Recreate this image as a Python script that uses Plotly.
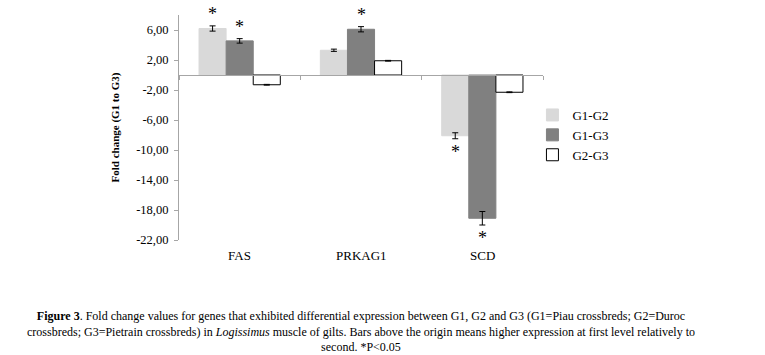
import plotly.graph_objects as go

genes = ["FAS", "PRKAG1", "SCD"]
series_names = ["G1-G2", "G1-G3", "G2-G3"]
g1g2 = [6.2, 3.3, -8.1]
g1g2_err = [0.35, 0.15, 0.4]
g1g3 = [4.55, 6.1, -19.1]
g1g3_err = [0.3, 0.35, 0.9]
g2g3 = [-1.3, 1.9, -2.3]
g2g3_err = [0.05, 0.05, 0.05]
# significance flags (1 = asterisk)
g1g2_sig = [1, 0, 1]
g1g3_sig = [1, 1, 1]
g2g3_sig = [0, 0, 0]
y_ticks = [6, 2, -2, -6, -10, -14, -18, -22]

FONT = "Liberation Serif, Times New Roman, serif"
Y_MIN, Y_MAX = -22, 8
W, H = 765, 355
ML, MR, MT, MB = 179, 222, 15, 115
PW, PH = W - ML - MR, H - MT - MB

colors = ["#d9d9d9", "#808080", "#ffffff"]
lines = ["#d9d9d9", "#808080", "#000000"]
vals = [g1g2, g1g3, g2g3]
errs = [g1g2_err, g1g3_err, g2g3_err]
sigs = [g1g2_sig, g1g3_sig, g2g3_sig]

fig = go.Figure()
for name, v, e, c, lc in zip(series_names, vals, errs, colors, lines):
    fig.add_trace(go.Bar(
        name=name, x=genes, y=v,
        marker=dict(color=c, line=dict(color=lc, width=1)),
        error_y=dict(type="data", array=e, color="#000000", thickness=1, width=3),
    ))

# asterisks and category labels
bar_w = (1 - 0.33) / 3
annotations = []
for si, (v, e, s) in enumerate(zip(vals, errs, sigs)):
    off = (si - 1) * bar_w
    for gi, g in enumerate(genes):
        if s[gi]:
            top = v[gi] >= 0
            yv = v[gi] + e[gi] if top else v[gi] - e[gi]
            annotations.append(dict(
                x=gi + off, y=yv, xref="x", yref="y", text="*", showarrow=False,
                yanchor="bottom" if top else "top", yshift=0 if top else -1,
                font=dict(family=FONT, size=18, color="#000000")))
for gi, g in enumerate(genes):
    annotations.append(dict(
        x=gi, y=Y_MIN, xref="x", yref="y", text=g, showarrow=False,
        yanchor="top", yshift=-6, font=dict(family=FONT, size=13, color="#000000")))

caption = ("<b>Figure 3</b>. Fold change values for genes that exhibited differential expression between G1, G2 and G3 (G1=Piau crossbreds; G2=Duroc<br>"
           "crossbreds; G3=Pietrain crossbreds) in <i>Logissimus</i> muscle of gilts. Bars above the origin means higher expression at first level relatively to<br>"
           "second. *P&lt;0.05")
annotations.append(dict(
    x=(361 - ML) / PW, y=(H - MB - 331) / PH, xref="paper", yref="paper",
    text=caption, showarrow=False, borderpad=0,
    align="center", xanchor="center", yanchor="middle",
    font=dict(family=FONT, size=12, color="#000000")))

tick_text = [("%.2f" % t).replace(".", ",") for t in y_ticks]

fig.update_layout(
    width=W, height=H,
    margin=dict(l=ML, r=MR, t=MT, b=MB),
    paper_bgcolor="#ffffff", plot_bgcolor="#ffffff",
    barmode="group", bargap=0.33, bargroupgap=0,
    showlegend=True,
    legend=dict(x=0.971, y=(H - MB - 100) / PH, xanchor="left", yanchor="top",
                font=dict(family=FONT, size=13, color="#000000"),
                itemwidth=30, bgcolor="rgba(0,0,0,0)"),
    xaxis=dict(type="category", anchor="free",
               position=(0 - Y_MIN) / (Y_MAX - Y_MIN),
               showline=True, linecolor="#a6a6a6", linewidth=1,
               ticks="outside", tickson="boundaries", ticklen=4, tickcolor="#a6a6a6",
               showticklabels=False, showgrid=False, zeroline=False),
    yaxis=dict(range=[Y_MIN, Y_MAX], tickmode="array", tickvals=y_ticks,
               ticktext=tick_text, showline=True, linecolor="#a6a6a6", linewidth=1,
               ticks="outside", ticklen=4, tickcolor="#a6a6a6",
               ticklabelstandoff=3,
               showgrid=False, zeroline=False,
               tickfont=dict(family=FONT, size=12.5, color="#000000"),
               title=dict(text="<b>Fold change (G1 to G3)</b>", standoff=14,
                          font=dict(family=FONT, size=11, color="#000000"))),
    annotations=annotations,
)

fig.write_html("out.html", config={"displayModeBar": False},
               post_script="document.body.style.margin='0';")
